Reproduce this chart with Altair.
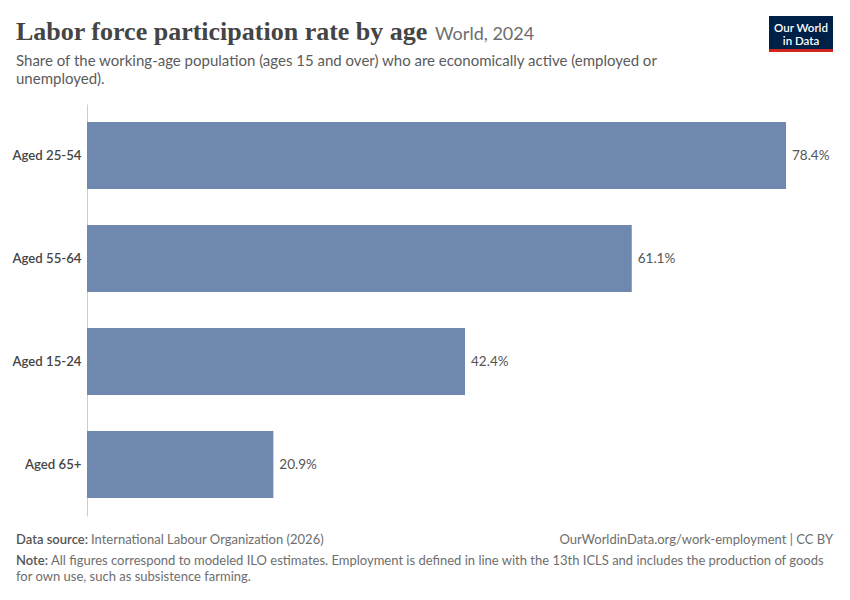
import altair as alt
import pandas as pd

categories = ["Aged 25-54", "Aged 55-64", "Aged 15-24", "Aged 65+"]
values = [78.4, 61.1, 42.4, 20.9]
labels = ["78.4%", "61.1%", "42.4%", "20.9%"]

df = pd.DataFrame({"age": categories, "value": values, "label": labels})

W, H = 699, 412
FONT = "Lato"

y_enc = alt.Y("age:N", sort=categories,
              scale=alt.Scale(paddingInner=0.35, paddingOuter=0.175),
              axis=alt.Axis(title=None, ticks=False, domain=True, domainColor="#cccccc",
                            labelFont=FONT, labelFontSize=13.2, labelFontWeight=600,
                            labelColor="#444444", labelPadding=6, grid=False))
x_enc = alt.X("value:Q", scale=alt.Scale(domain=[0, 78.4], nice=False),
              axis=None)

base = alt.Chart(df)
bars = base.mark_bar(color="#6e88b0").encode(x=x_enc, y=y_enc)
vals = base.mark_text(align="left", baseline="middle", dx=6, font=FONT,
                      fontSize=13.5, color="#555555").encode(x=x_enc, y=y_enc, text="label:N")

def txt(text, x, y, size, color="#5b5b5b", font=FONT, weight="normal", align="left", **kw):
    return alt.Chart(pd.DataFrame({"t": [text]})).mark_text(
        align=align, baseline="alphabetic", font=font, fontSize=size,
        fontWeight=weight, color=color, **kw).encode(
        x=alt.value(x), y=alt.value(y), text="t:N")

title = txt("Labor force participation rate by age", -71, -64, 26,
            color="#444444", font="Liberation Serif", weight="bold")
title2 = txt("World, 2024", 348, -64, 18, color="#6e6e6e")
sub1 = txt("Share of the working-age population (ages 15 and over) who are economically active (employed or",
           -71, -38, 15, color="#5b5b5b")
sub2 = txt("unemployed).", -71, -20, 15, color="#5b5b5b")

src_a = txt("Data source:", -71, 440, 13, color="#555555", weight=600)
src_b = txt("International Labour Organization (2026)", 4, 440, 13, color="#6e6e6e")
src_r = txt("OurWorldinData.org/work-employment | CC BY", 746, 440, 13, color="#6e6e6e", align="right")
note_a = txt("Note:", -71, 461, 13, color="#555555", weight=600)
note_b = txt("All figures correspond to modeled ILO estimates. Employment is defined in line with the 13th ICLS and includes the production of goods",
             -36, 461, 13, color="#6e6e6e")
note_c = txt("for own use, such as subsistence farming.", -71, 477, 13, color="#6e6e6e")

logo_bg = alt.Chart(pd.DataFrame({"a": [1]})).mark_rect(color="#002147").encode(
    x=alt.value(682), x2=alt.value(746), y=alt.value(-88), y2=alt.value(-55))
logo_red = alt.Chart(pd.DataFrame({"a": [1]})).mark_rect(color="#ce261e").encode(
    x=alt.value(682), x2=alt.value(746), y=alt.value(-55), y2=alt.value(-52))
logo1 = txt("Our World", 714, -72.5, 11.5, color="#ffffff", align="center", weight=600)
logo2 = txt("in Data", 714, -59, 11.5, color="#ffffff", align="center", weight=600)

chart = alt.layer(bars, vals, title, title2, sub1, sub2, src_a, src_b, src_r,
                  note_a, note_b, note_c, logo_bg, logo_red, logo1, logo2).properties(
    width=W, height=H,
    background="#ffffff",
    autosize=alt.AutoSizeParams(type="none"),
    padding={"left": 79, "top": 96, "right": 56, "bottom": 70},
).configure_view(strokeWidth=0, stroke="transparent")

chart.save("out.html", embed_options={"renderer": "svg", "actions": False})
